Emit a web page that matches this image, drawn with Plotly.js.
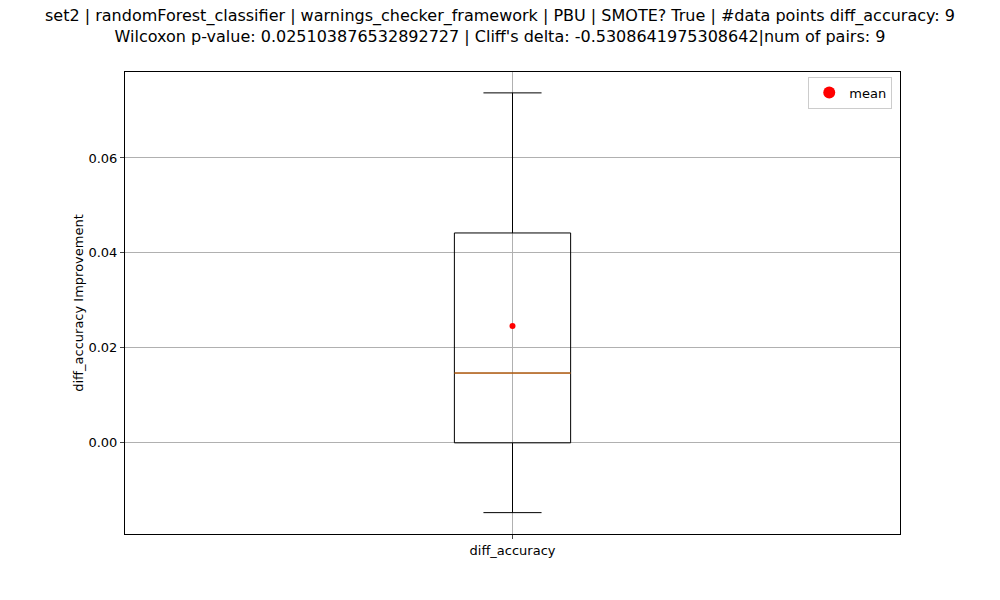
<!DOCTYPE html>
<html>
<head>
<script src="https://cdn.plot.ly/plotly-3.0.1.min.js"></script>
</head>
<body style="margin:0">
<div id="chart" style="width:1000px;height:600px;"></div>
<script>
var category = ['diff_accuracy'];
var q1 = [0.0];
var median = [0.0147];
var q3 = [0.0442];
var lowerWhisker = [-0.0147];
var upperWhisker = [0.0737];
var mean = [0.0246];

var box = {
    type: 'box',
    x: [1],
    q1: q1, median: median, q3: q3,
    lowerfence: lowerWhisker, upperfence: upperWhisker,
    width: 0.15,
    whiskerwidth: 0.5,
    fillcolor: 'rgba(0,0,0,0)',
    line: {color: 'black', width: 1},
    boxpoints: false,
    hoverinfo: 'skip',
    showlegend: false
};
// matplotlib draws the median in orange
var medianLine = {
    type: 'scatter', mode: 'lines',
    x: [1 - 0.075, 1 + 0.075],
    y: [median[0], median[0]],
    line: {color: '#ff7f0e', width: 1},
    showlegend: false, hoverinfo: 'skip'
};
var meanPoint = {
    type: 'scatter', mode: 'markers',
    x: [1], y: mean,
    name: 'mean',
    marker: {color: 'red', size: 6}
};

var layout = {
    width: 1000, height: 600,
    paper_bgcolor: 'white', plot_bgcolor: 'white',
    font: {family: 'DejaVu Sans', size: 13, color: 'black'},
    title: {
        text: "set2 | randomForest_classifier | warnings_checker_framework | PBU | SMOTE? True | #data points diff_accuracy: 9<br>Wilcoxon p-value: 0.025103876532892727 | Cliff's delta: -0.5308641975308642|num of pairs: 9",
        x: 0.5, xanchor: 'center', y: 0.965, yanchor: 'top',
        font: {size: 16}
    },
    margin: {l: 125, r: 100, t: 72, b: 66},
    xaxis: {
        range: [0.5, 1.5], tickvals: [1], ticktext: category,
        showgrid: true, gridcolor: '#b0b0b0', zeroline: false,
        showline: true, mirror: true, linecolor: 'black',
        ticks: 'outside', ticklen: 4
    },
    yaxis: {
        range: [-0.0192, 0.0781],
        tickvals: [0, 0.02, 0.04, 0.06], tickformat: '.2f',
        showgrid: true, gridcolor: '#b0b0b0', zeroline: false,
        showline: true, mirror: true, linecolor: 'black',
        ticks: 'outside', ticklen: 4,
        title: {text: 'diff_accuracy Improvement', font: {size: 13}}
    },
    legend: {
        x: 0.99, xanchor: 'right', y: 0.99, yanchor: 'top',
        bordercolor: '#cccccc', borderwidth: 1, bgcolor: 'white',
        itemsizing: 'constant'
    }
};

Plotly.newPlot('chart', [box, medianLine, meanPoint], layout, {displayModeBar: false});
</script>
</body>
</html>
